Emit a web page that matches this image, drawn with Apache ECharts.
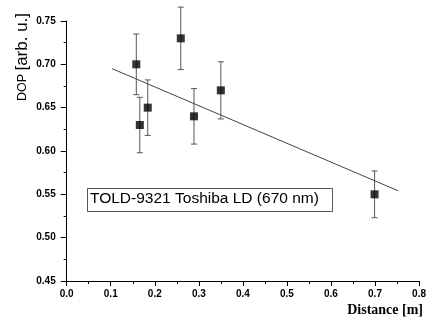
<!DOCTYPE html>
<html>
<head>
<meta charset="utf-8">
<script src="https://cdn.jsdelivr.net/npm/echarts@6/dist/echarts.min.js"></script>
<style>
html,body{margin:0;padding:0;background:#fff;}
#c{width:429px;height:322px;}
</style>
</head>
<body>
<div id="c"></div>
<script>
// Data
const distance = [0.158, 0.166, 0.184, 0.259, 0.289, 0.350, 0.699];
const dop = [0.700, 0.630, 0.650, 0.730, 0.640, 0.670, 0.550];
const dopErr = [0.035, 0.032, 0.032, 0.036, 0.032, 0.033, 0.027];
const fitX = [0.103, 0.753];
const fitY = [0.695, 0.554];
const xTicks = [0.0, 0.1, 0.2, 0.3, 0.4, 0.5, 0.6, 0.7, 0.8];
const yTicks = [0.45, 0.50, 0.55, 0.60, 0.65, 0.70, 0.75];
const labelText = 'TOLD-9321 Toshiba LD (670 nm)';
const xTitle = 'Distance [m]';
const yTitleA = 'DOP';
const yTitleB = '[arb. u.]';

const chart = echarts.init(document.getElementById('c'), null, {renderer: 'canvas'});

const points = distance.map((x, i) => [x, dop[i]]);
const errData = distance.map((x, i) => [x, dop[i] - dopErr[i], dop[i] + dopErr[i]]);
const fitData = fitX.map((x, i) => [x, fitY[i]]);

const tickLabelStyle = {
  color: '#000', fontFamily: 'Liberation Sans', fontWeight: 'bold', fontSize: 10
};

chart.setOption({
  animation: false,
  backgroundColor: '#fff',
  grid: {left: 66.7, right: 5, top: 21, bottom: 41, containLabel: false},
  xAxis: {
    type: 'value', min: xTicks[0], max: xTicks[xTicks.length - 1], interval: 0.1,
    axisLine: {show: true, onZero: false, lineStyle: {color: '#000', width: 1}},
    axisTick: {show: true, length: 5, lineStyle: {color: '#000'}},
    minorTick: {show: true, splitNumber: 2, length: 3, lineStyle: {color: '#000'}},
    splitLine: {show: false},
    axisLabel: Object.assign({margin: 8, formatter: v => v.toFixed(1), showMaxLabel: true, showMinLabel: true}, tickLabelStyle)
  },
  yAxis: {
    type: 'value', min: yTicks[0], max: yTicks[yTicks.length - 1], interval: 0.05,
    axisLine: {show: true, onZero: false, lineStyle: {color: '#000', width: 1}},
    axisTick: {show: true, length: 6, lineStyle: {color: '#000'}},
    minorTick: {show: true, splitNumber: 2, length: 3, lineStyle: {color: '#000'}},
    splitLine: {show: false},
    axisLabel: Object.assign({margin: 11, formatter: v => v.toFixed(2)}, tickLabelStyle)
  },
  series: [
    {
      type: 'line', data: fitData, symbol: 'none', silent: true,
      lineStyle: {color: '#444', width: 1}, z: 2
    },
    {
      type: 'custom', data: errData, z: 3,
      renderItem: function (params, api) {
        const x = api.value(0);
        const lo = api.coord([x, api.value(1)]);
        const hi = api.coord([x, api.value(2)]);
        const cap = 3;
        const st = {stroke: '#555', lineWidth: 1};
        return {
          type: 'group',
          children: [
            {type: 'line', shape: {x1: lo[0], y1: lo[1], x2: hi[0], y2: hi[1]}, style: st},
            {type: 'line', shape: {x1: lo[0] - cap, y1: lo[1], x2: lo[0] + cap, y2: lo[1]}, style: st},
            {type: 'line', shape: {x1: hi[0] - cap, y1: hi[1], x2: hi[0] + cap, y2: hi[1]}, style: st}
          ]
        };
      }
    },
    {
      type: 'scatter', data: points, symbol: 'rect', symbolSize: 8, z: 4,
      itemStyle: {color: '#000'}
    }
  ],
  graphic: [
    {
      type: 'rect', left: 87, top: 188, z: 10,
      shape: {width: 245, height: 23},
      style: {fill: '#fff', stroke: '#555', lineWidth: 1}
    },
    {
      type: 'text', left: 90, top: 191, z: 11,
      style: {text: labelText, fill: '#000', font: '15.5px "Liberation Sans"'}
    },
    {
      type: 'text', right: 6, top: 303, z: 11,
      style: {text: xTitle, fill: '#000', font: 'bold 14px "Liberation Serif"'}
    },
    {
      type: 'text', x: 31, y: 101, rotation: Math.PI / 2, z: 11,
      style: {
        text: '{a|' + yTitleA + '} {b|' + yTitleB + '}',
        fill: '#000',
        textVerticalAlign: 'bottom',
        rich: {
          a: {fontFamily: 'Liberation Sans', fontSize: 12.5, fill: '#000'},
          b: {fontFamily: 'Liberation Sans', fontSize: 17, fill: '#000'}
        }
      }
    }
  ]
});
</script>
</body>
</html>
